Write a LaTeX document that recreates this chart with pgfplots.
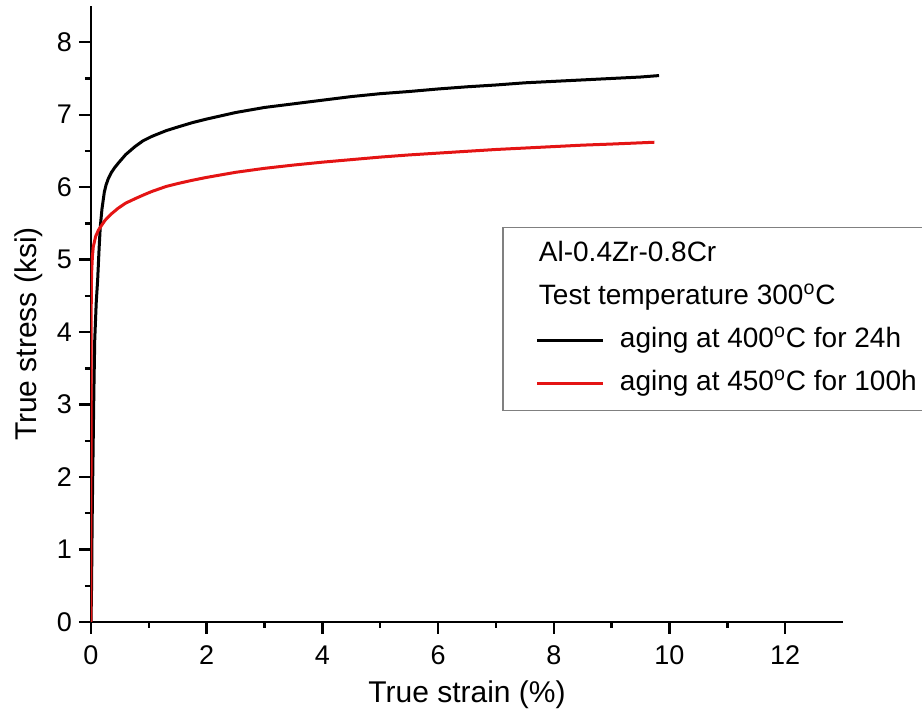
\documentclass[border=0pt]{standalone}
\usepackage{fontspec}
\setmainfont{Liberation Sans}
\usepackage{pgfplots}
\pgfplotsset{compat=1.18}
\definecolor{curvered}{RGB}{228,20,20}
\begin{document}
\begin{tikzpicture}
\begin{axis}[
    scale only axis,
    width=376pt, height=308pt,
    xmin=0, xmax=13, ymin=0, ymax=8.5,
    axis x line*=bottom, axis y line*=left,
    axis line style={line width=1.2pt},
    xtick={0,2,...,12}, ytick={0,1,...,8},
    minor x tick num=1, minor y tick num=1,
    tick align=outside,
    major tick length=6pt, minor tick length=3pt,
    tick style={line width=1.2pt, black},
    /pgf/number format/assume math mode=true,
    tick label style={font=\fontsize{13.5}{15}\selectfont},
    xticklabel style={yshift=-2.5pt},
    xlabel={True strain (\%)},
    ylabel={True stress (ksi)},
    label style={font=\fontsize{15}{18}\selectfont},
    xlabel style={at={(axis description cs:0.5,-0.1315)}, anchor=base},
    ylabel style={at={(axis description cs:-0.0723,0.4675)}, anchor=base},
    legend style={at={(0.547,0.641)}, anchor=north west, draw=gray, line width=0.6pt,
        inner xsep=16.5pt, inner ysep=5pt, font=\fontsize{14}{17}\selectfont,
        row sep=4.5pt, column sep=5.5pt,
        nodes={inner sep=2pt, text height=10pt, text depth=3pt}},
    legend cell align=left,
    legend image code/.code={\draw[#1] (0pt,0pt) -- (33pt,0pt);},
]
\addlegendimage{empty legend}
\addlegendentry{\hspace*{-40.5pt}Al-0.4Zr-0.8Cr}
\addlegendimage{empty legend}
\addlegendentry{\hspace*{-40.5pt}Test temperature 300\textsuperscript{o}C}

% aging at 400C for 24h
\addplot[black, line width=1.5pt] coordinates {
(0,0) (0.01,0.5) (0.02,1.4) (0.035,2.3) (0.05,3.2) (0.065,3.9) (0.09,4.4)
(0.115,4.72) (0.14,5.15) (0.16,5.45) (0.19,5.70) (0.23,5.93) (0.26,6.03)
(0.30,6.12) (0.35,6.20) (0.41,6.27) (0.47,6.33) (0.6,6.45) (0.76,6.56)
(0.9,6.64) (1.05,6.70) (1.3,6.78) (1.5,6.83) (1.75,6.89) (2.0,6.94)
(2.5,7.03) (3.0,7.10) (3.5,7.15) (4.0,7.20) (4.5,7.25) (5.0,7.29)
(5.5,7.32) (6.0,7.355) (6.5,7.385) (7.0,7.41) (7.5,7.44) (8.0,7.46)
(8.5,7.48) (9.0,7.50) (9.5,7.52) (9.82,7.54)
};
\addlegendentry{aging at 400\textsuperscript{o}C for 24h}

% aging at 450C for 100h
\addplot[curvered, line width=1.5pt] coordinates {
(0,0) (0,2) (0.002,4.0) (0.005,4.5) (0.01,4.81) (0.025,5.05) (0.04,5.18)
(0.08,5.32) (0.13,5.41) (0.24,5.54) (0.35,5.63) (0.47,5.71) (0.6,5.78)
(0.76,5.84) (0.9,5.89) (1.05,5.94) (1.3,6.01) (1.5,6.05) (1.75,6.095)
(2.0,6.135) (2.5,6.205) (3.0,6.26) (3.5,6.305) (4.0,6.345) (4.5,6.38)
(5.0,6.415) (5.5,6.445) (6.0,6.47) (6.5,6.495) (7.0,6.52) (7.5,6.54)
(8.0,6.56) (8.5,6.58) (9.0,6.595) (9.74,6.62)
};
\addlegendentry{aging at 450\textsuperscript{o}C for 100h}
\end{axis}
\pgfresetboundingbox
\path ([shift={(-45.5pt,-47.5pt)}]current axis.south west)
    rectangle ([shift={(39.5pt,3pt)}]current axis.north east);
\end{tikzpicture}
\end{document}
